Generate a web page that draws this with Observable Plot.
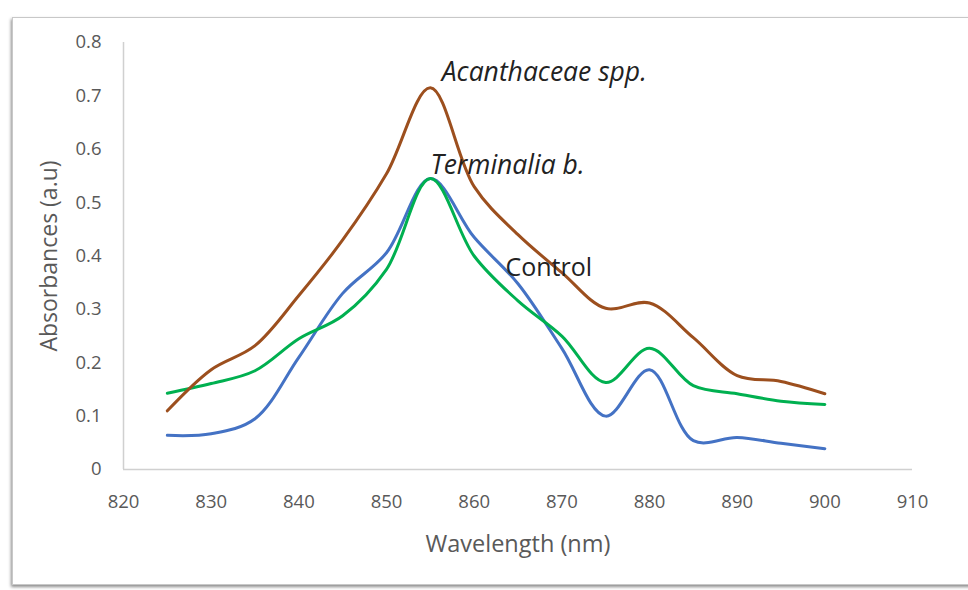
<!DOCTYPE html>
<html>
<head>
<meta charset="utf-8">
<script src="https://cdn.jsdelivr.net/npm/d3@7"></script>
<script src="https://cdn.jsdelivr.net/npm/@observablehq/plot@0.6"></script>
<style>
  html, body { margin: 0; padding: 0; background: #fff; }
  #wrap { position: relative; width: 968px; height: 590px; overflow: hidden; }
  #frame { position: absolute; left: 12px; top: 17px; width: 990px; height: 566px;
    border: 1px solid #c8c8c8; box-shadow: -1px 2px 3px rgba(0,0,0,0.45); background: #fff; }
  #chart { position: absolute; left: 0; top: 0; }
</style>
</head>
<body>
<div id="wrap"><div id="frame"></div><div id="chart"></div></div>
<script>
const wavelengths = [825, 830, 835, 840, 845, 850, 855, 860, 865, 870, 875, 880, 885, 890, 895, 900];
const control     = [0.064, 0.067, 0.095, 0.21, 0.33, 0.406, 0.545, 0.435, 0.348, 0.227, 0.10, 0.187, 0.054, 0.06, 0.049, 0.039];
const terminalia  = [0.143, 0.161, 0.185, 0.245, 0.288, 0.375, 0.545, 0.40, 0.316, 0.25, 0.163, 0.227, 0.157, 0.142, 0.128, 0.122];
const acanthaceae = [0.11, 0.187, 0.232, 0.326, 0.43, 0.554, 0.715, 0.53, 0.44, 0.369, 0.302, 0.312, 0.247, 0.176, 0.165, 0.142];

const seriesNames  = ["Control", "Terminalia b.", "Acanthaceae spp."];
const seriesColors = ["#4472C4", "#00B050", "#9C4F1E"];
const seriesValues = [control, terminalia, acanthaceae];

const xTicks = [820, 830, 840, 850, 860, 870, 880, 890, 900, 910];
const yTicks = [0, 0.1, 0.2, 0.3, 0.4, 0.5, 0.6, 0.7, 0.8];

// annotation labels (data units)
const labelText   = ["Acanthaceae spp.", "Terminalia b.", "Control"];
const labelX      = [868.0, 863.8, 868.5];
const labelY      = [0.744, 0.570, 0.378];
const labelItalic = [true, true, false];

const rows = [];
seriesNames.forEach((name, i) => {
  wavelengths.forEach((w, j) => rows.push({series: name, x: w, y: seriesValues[i][j]}));
});
const labels = labelText.map((t, i) => ({t, x: labelX[i], y: labelY[i], italic: labelItalic[i]}));

const chart = Plot.plot({
  width: 968,
  height: 590,
  marginLeft: 123,
  marginRight: 56,
  marginTop: 42,
  marginBottom: 121,
  style: {fontFamily: "'Open Sans', sans-serif", background: "transparent", color: "#595959"},
  x: {domain: [820, 910]},
  y: {domain: [0, 0.8]},
  color: {domain: seriesNames, range: seriesColors},
  marks: [
    Plot.ruleY([0], {stroke: "#d0d0d0", strokeWidth: 1.5}),
    Plot.ruleX([820], {stroke: "#d0d0d0", strokeWidth: 1.5}),
    Plot.axisX({ticks: xTicks, tickSize: 0, tickPadding: 25, fontSize: 18.5, fill: "#595959",
      label: null}),
    Plot.axisY({ticks: yTicks, tickSize: 0, tickPadding: 22, fontSize: 18.5, fill: "#595959",
      tickFormat: d => d === 0 ? "0" : d.toFixed(1), label: null}),
    Plot.axisX({ticks: [], tickSize: 0, fontSize: 23.5, fill: "#595959",
      label: "Wavelength (nm)", labelAnchor: "center", labelArrow: "none", labelOffset: 82}),
    Plot.axisY({ticks: [], tickSize: 0, fontSize: 23, fill: "#595959",
      label: "Absorbances (a.u)", labelAnchor: "center", labelArrow: "none", labelOffset: 83}),
    Plot.line(rows, {x: "x", y: "y", z: "series", stroke: "series", strokeWidth: 3, curve: "catmull-rom"}),
    Plot.text(labels.filter(d => d.italic), {x: "x", y: "y", text: "t", fontSize: 26.5, fontStyle: "italic", fill: "#222"}),
    Plot.text(labels.filter(d => !d.italic), {x: "x", y: "y", text: "t", fontSize: 25, fill: "#222"})
  ]
});
document.getElementById("chart").appendChild(chart);
</script>
</body>
</html>
